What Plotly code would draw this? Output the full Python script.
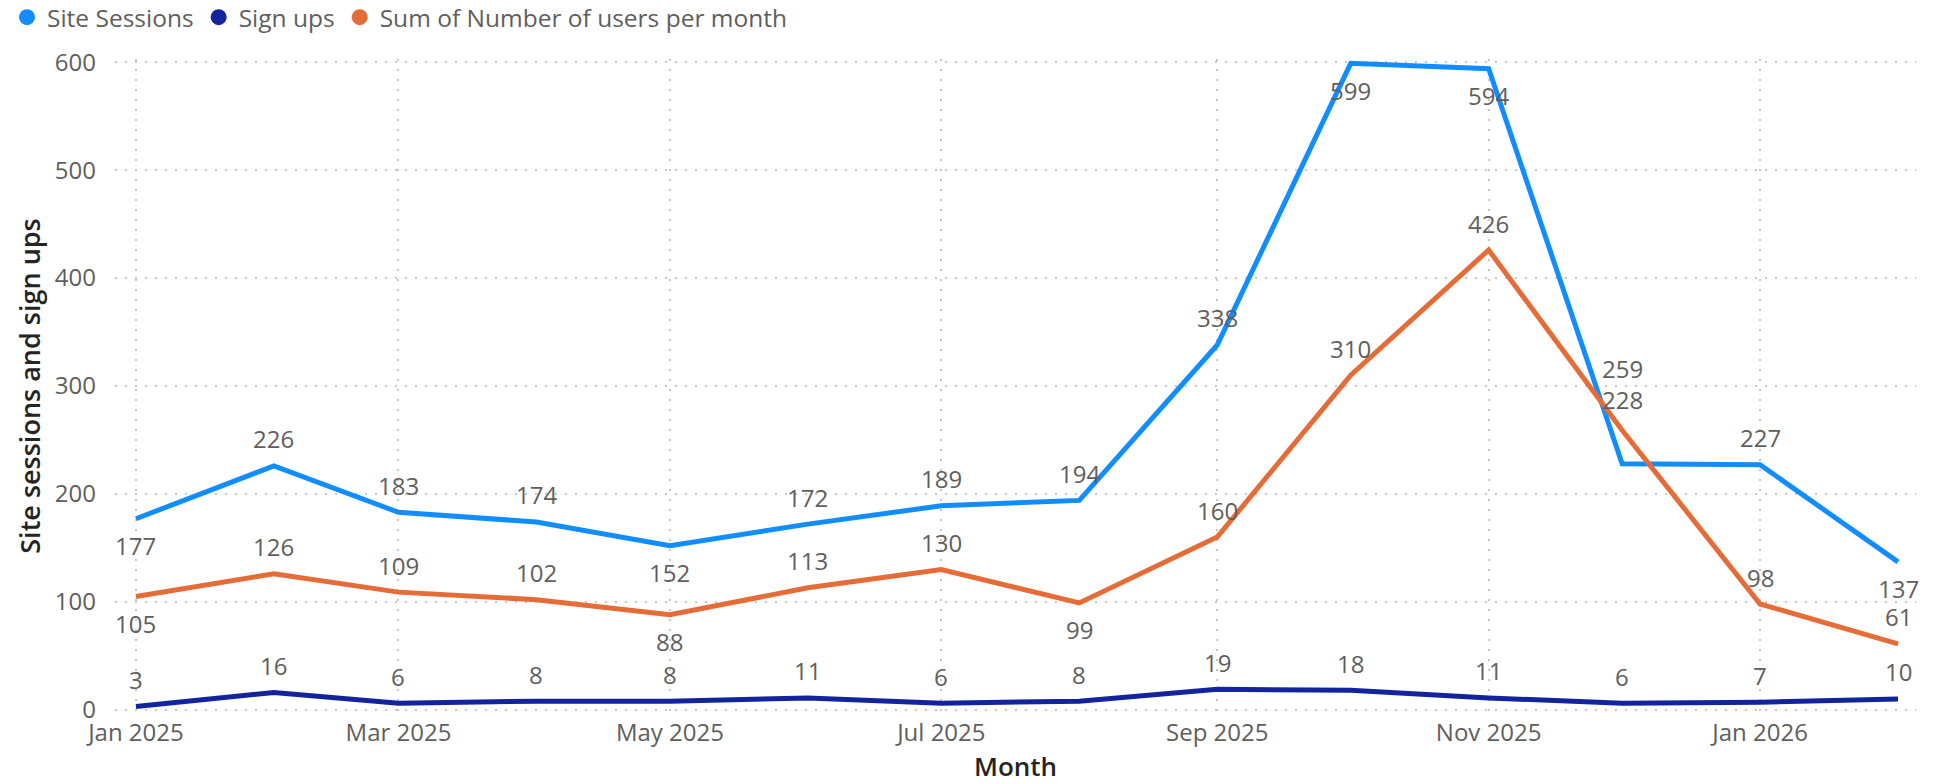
import plotly.graph_objects as go

months = ["2025-01-01", "2025-02-01", "2025-03-01", "2025-04-01", "2025-05-01", "2025-06-01",
          "2025-07-01", "2025-08-01", "2025-09-01", "2025-10-01", "2025-11-01", "2025-12-01",
          "2026-01-01", "2026-02-01"]
site_sessions = [177, 226, 183, 174, 152, 172, 189, 194, 338, 599, 594, 228, 227, 137]
sign_ups = [3, 16, 6, 8, 8, 11, 6, 8, 19, 18, 11, 6, 7, 10]
users_per_month = [105, 126, 109, 102, 88, 113, 130, 99, 160, 310, 426, 259, 98, 61]

# label placement (pixel shifts, style only; positive = above the point)
ss_shift = [-27, 27, 27, 27, -27, 27, 27, 27, 27, -27, -27, 64, 27, -27]
su_shift = [27] * 14
us_shift = [-27, 27, 27, 27, -27, 27, 27, -27, 27, 27, 27, 62, 27, 27]

series = [
    ("Site Sessions", site_sessions, "#118DFF", ss_shift),
    ("Sign ups", sign_ups, "#12239E", su_shift),
    ("Sum of Number of users per month", users_per_month, "#E66C37", us_shift),
]

FONT = "Segoe UI, Open Sans, Noto Sans, sans-serif"
fig = go.Figure()
annotations = []
for name, vals, color, shifts in series:
    fig.add_trace(go.Scatter(x=months, y=vals, mode="lines", name=name,
                             line=dict(color=color, width=5), showlegend=False,
                             hoverinfo="x+y"))
    fig.add_trace(go.Scatter(x=[None], y=[None], mode="markers", name=name,
                             marker=dict(color=color, size=18, symbol="circle"),
                             showlegend=True))
    for x, v, s in zip(months, vals, shifts):
        annotations.append(dict(x=x, y=v, text=str(v), showarrow=False, yshift=s,
                                font=dict(family=FONT, size=24, color="#605E5C")))

fig.update_layout(
    width=1945, height=784,
    margin=dict(l=115, r=29, t=59, b=71, autoexpand=False),
    paper_bgcolor="white", plot_bgcolor="white",
    font=dict(family=FONT, color="#605E5C"),
    annotations=annotations,
    legend=dict(orientation="h", xref="container", yref="container",
                x=0.0036, y=0.978, xanchor="left", yanchor="middle",
                font=dict(size=24.5, color="#605E5C"), itemwidth=30,
                traceorder="normal", bgcolor="rgba(0,0,0,0)"),
    xaxis=dict(type="date", range=["2024-12-27 07:00", "2026-02-05 01:00"],
               tick0="2025-01-01", dtick="M2", tickformat="%b %Y", automargin=False,
               showgrid=True, gridcolor="#C8C6C4", gridwidth=2, griddash="2px,8px",
               zeroline=False, showline=False, ticks="", ticklabelstandoff=3,
               tickfont=dict(size=24, color="#605E5C"),
               title=dict(text="Month", standoff=11,
                          font=dict(size=26, color="#252423", weight=600))),
    yaxis=dict(range=[-3, 603], tickvals=[0, 100, 200, 300, 400, 500, 600], automargin=False,
               showgrid=True, gridcolor="#C8C6C4", gridwidth=2, griddash="2px,8px",
               zeroline=False, showline=False, ticks="", ticklabelstandoff=18,
               tickfont=dict(size=24, color="#605E5C"),
               title=dict(text="Site sessions and sign ups", standoff=6,
                          font=dict(size=27, color="#252423", weight=600))),
)

fig.write_html("out.html", config={"displayModeBar": False},
               post_script="document.body.style.margin='0';")
